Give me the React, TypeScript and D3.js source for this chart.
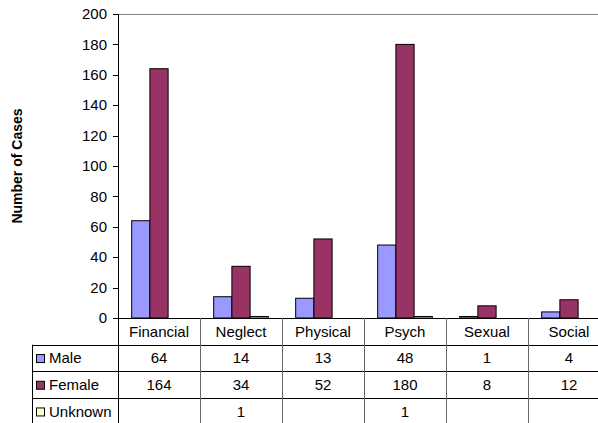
import React from "react";
import * as d3 from "d3";

const categories = ["Financial", "Neglect", "Physical", "Psych", "Sexual", "Social"];
const seriesNames = ["Male", "Female", "Unknown"];
const maleValues: (number | null)[] = [64, 14, 13, 48, 1, 4];
const femaleValues: (number | null)[] = [164, 34, 52, 180, 8, 12];
const unknownValues: (number | null)[] = [null, 1, null, 1, null, null];
const seriesColors = ["#9999FF", "#993366", "#FFFFCC"];
const yTicks = [0, 20, 40, 60, 80, 100, 120, 140, 160, 180, 200];

const W = 598;
const H = 423;
const left = 118;
const top = 14;
const bottom = 318;
const catWidth = 82;
const rowH = 26.7;
const legendLeft = 32;
const font = "'Liberation Sans', Arial, sans-serif";
const fs = 15;

export default function App() {
  const series = [maleValues, femaleValues, unknownValues];
  const x = d3
    .scaleBand<string>()
    .domain(categories)
    .range([left, left + catWidth * categories.length])
    .paddingInner(0)
    .paddingOuter(0);
  const x1 = d3
    .scaleBand<string>()
    .domain(seriesNames)
    .range([0, x.bandwidth()])
    .paddingInner(0)
    .paddingOuter(0.75);
  const y = d3.scaleLinear().domain([0, 200]).range([bottom, top]);

  const right = left + catWidth * categories.length;
  const tableBottom = bottom + rowH * 4;

  return (
    <svg
      width={W}
      height={H}
      style={{ position: "absolute", left: 0, top: 0, background: "#fff" }}
      fontFamily={font}
    >
      {/* plot frame top */}
      <line x1={left} x2={right} y1={top + 0.5} y2={top + 0.5} stroke="#808080" strokeWidth={1} />

      {/* bars */}
      {categories.map((c, ci) =>
        series.map((vals, si) => {
          const v = vals[ci];
          if (v == null) return null;
          const bx = (x(c) as number) + (x1(seriesNames[si]) as number);
          return (
            <rect
              key={c + si}
              x={bx}
              y={y(v)}
              width={x1.bandwidth()}
              height={bottom - y(v)}
              fill={seriesColors[si]}
              stroke="#000"
              strokeWidth={1}
            />
          );
        })
      )}

      {/* y axis */}
      <line x1={left + 0.5} x2={left + 0.5} y1={top} y2={tableBottom} stroke="#000" />
      {yTicks.map((t) => (
        <g key={t}>
          <line x1={left - 5} x2={left} y1={Math.round(y(t)) + 0.5} y2={Math.round(y(t)) + 0.5} stroke="#000" />
          <text x={left - 11} y={y(t)} dy="0.35em" textAnchor="end" fontSize={fs}>
            {t}
          </text>
        </g>
      ))}
      <text
        transform={`translate(22,${(top + bottom) / 2}) rotate(-90)`}
        textAnchor="middle"
        fontSize={14}
        fontWeight="bold"
      >
        Number of Cases
      </text>

      {/* data table */}
      {[0, 1, 2, 3].map((r) => {
        const yy = Math.round(bottom + rowH * r) + 0.5;
        return (
          <line
            key={r}
            x1={r === 0 ? left - 5 : legendLeft}
            x2={right}
            y1={yy}
            y2={yy}
            stroke="#000"
          />
        );
      })}
      <line x1={legendLeft + 0.5} x2={legendLeft + 0.5} y1={bottom + rowH} y2={tableBottom} stroke="#000" />
      {categories.slice(1).map((c) => (
        <line
          key={c}
          x1={Math.round(x(c) as number) + 0.5}
          x2={Math.round(x(c) as number) + 0.5}
          y1={bottom}
          y2={tableBottom}
          stroke="#666"
        />
      ))}
      {categories.map((c) => (
        <text
          key={c}
          x={(x(c) as number) + catWidth / 2}
          y={bottom + rowH / 2}
          dy="0.35em"
          textAnchor="middle"
          fontSize={fs}
        >
          {c}
        </text>
      ))}
      {series.map((vals, si) => {
        const ry = bottom + rowH * (si + 1);
        return (
          <g key={si}>
            <rect x={36.5} y={ry + rowH / 2 - 3.5} width={8} height={8} fill={seriesColors[si]} stroke="#000" />
            <text x={49} y={ry + rowH / 2} dy="0.35em" fontSize={fs}>
              {seriesNames[si]}
            </text>
            {vals.map((v, ci) =>
              v == null ? null : (
                <text
                  key={ci}
                  x={(x(categories[ci]) as number) + catWidth / 2}
                  y={ry + rowH / 2}
                  dy="0.35em"
                  textAnchor="middle"
                  fontSize={fs}
                >
                  {v}
                </text>
              )
            )}
          </g>
        );
      })}
    </svg>
  );
}
